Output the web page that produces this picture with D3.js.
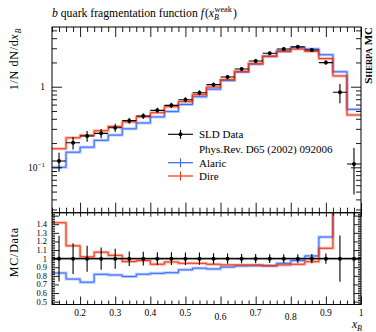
<!DOCTYPE html>
<html><head><meta charset="utf-8">
<script src="https://cdn.jsdelivr.net/npm/d3@7"></script>
<style>
html,body{margin:0;padding:0;background:#fff;}
svg text{font-family:"Liberation Serif","DejaVu Serif",serif;fill:#000;}
</style></head>
<body><svg id="c" width="376" height="332"></svg>
<script>
// ---- data ----
const binCenters = [0.14,0.18,0.22,0.26,0.30,0.34,0.38,0.42,0.46,0.50,0.54,0.58,0.62,0.66,0.70,0.74,0.78,0.82,0.86,0.90,0.94,0.98];
const sldData    = [0.12,0.202,0.245,0.264,0.31,0.379,0.433,0.509,0.587,0.69,0.843,1.06,1.32,1.66,2.08,2.6,2.94,3.13,2.85,1.99,0.852,0.11];
const sldErr     = [0.032,0.036,0.037,0.034,0.036,0.032,0.035,0.038,0.044,0.05,0.06,0.066,0.08,0.09,0.11,0.13,0.15,0.16,0.15,0.12,0.23,0.064];
const alaric     = [0.10,0.154,0.178,0.216,0.251,0.30,0.355,0.422,0.491,0.60,0.75,0.933,1.19,1.52,1.91,2.39,2.78,3.06,2.94,2.49,1.53,0.524];
const dire       = [0.17,0.232,0.25,0.284,0.322,0.366,0.423,0.476,0.564,0.653,0.797,0.991,1.224,1.539,1.928,2.379,2.725,2.927,2.75,2.23,1.36,0.446];
const halfWidth = 0.02;
const xTickLabels = ["0.2","0.3","0.4","0.5","0.6","0.7","0.8","0.9","1"];
const xTickValues = [0.2,0.3,0.4,0.5,0.6,0.7,0.8,0.9,1.0];
const ratioTickValues = [0.5,0.6,0.7,0.8,0.9,1.0,1.1,1.2,1.3,1.4];
const ratioTickLabels = ["0.5","0.6","0.7","0.8","0.9","1","1.1","1.2","1.3","1.4"];
const legendLabels = ["SLD Data","Phys.Rev. D65 (2002) 092006","Alaric","Dire"];
const blue = "#3366ff", red = "#ee3311";

// ---- layout ----
const L = 52, R = 361, T = 27, MB = 212.7, RB = 304.5;
const svg = d3.select("#c");
const x = d3.scaleLinear().domain([0.12, 1.0]).range([L, R]);
const y = d3.scaleLog().domain([0.02735, 5.505]).range([MB, T]);
const yr = d3.scaleLinear().domain([0.467, 1.534]).range([RB, MB]);

svg.append("defs").html(
  `<clipPath id="cm"><rect x="${L}" y="${T}" width="${R-L}" height="${MB-T}"/></clipPath>
   <clipPath id="cr"><rect x="${L}" y="${MB}" width="${R-L}" height="${RB-MB}"/></clipPath>`);

function stepPts(vals, fy){
  const pts=[];
  vals.forEach((v,i)=>{ pts.push([x(binCenters[i]-halfWidth), fy(v)]); pts.push([x(binCenters[i]+halfWidth), fy(v)]); });
  return pts;
}
const line = d3.line();

// ---- main panel ----
const gm = svg.append("g").attr("clip-path","url(#cm)");
[[alaric,blue],[dire,red]].forEach(([vals,col])=>{
  gm.append("path").attr("d",line(stepPts(vals,y))).attr("fill","none").attr("stroke",col).attr("stroke-opacity",0.35).attr("stroke-width",3);
  gm.append("path").attr("d",line(stepPts(vals,y))).attr("fill","none").attr("stroke",col).attr("stroke-width",1);
});
binCenters.forEach((c,i)=>{
  const v=sldData[i], e=sldErr[i];
  gm.append("line").attr("x1",x(c-halfWidth)).attr("x2",x(c+halfWidth)).attr("y1",y(v)).attr("y2",y(v)).attr("stroke","#000").attr("stroke-width",1.1);
  gm.append("line").attr("x1",x(c)).attr("x2",x(c)).attr("y1",y(Math.max(v-e,1e-3))).attr("y2",y(v+e)).attr("stroke","#000").attr("stroke-width",1.1);
  gm.append("circle").attr("cx",x(c)).attr("cy",y(v)).attr("r",2).attr("fill","#000");
});

// ---- ratio panel ----
const gr = svg.append("g").attr("clip-path","url(#cr)");
gr.append("rect").attr("x",L).attr("width",R-L).attr("y",yr(1)-1.5).attr("height",3).attr("fill","#000").attr("fill-opacity",0.25);
[[alaric,blue],[dire,red]].forEach(([vals,col])=>{
  const rv = vals.map((v,i)=>v/sldData[i]);
  gr.append("path").attr("d",line(stepPts(rv,yr))).attr("fill","none").attr("stroke",col).attr("stroke-opacity",0.35).attr("stroke-width",3);
  gr.append("path").attr("d",line(stepPts(rv,yr))).attr("fill","none").attr("stroke",col).attr("stroke-width",1);
});
binCenters.forEach((c,i)=>{
  const re=sldErr[i]/sldData[i];
  gr.append("line").attr("x1",x(c-halfWidth)).attr("x2",x(c+halfWidth)).attr("y1",yr(1)).attr("y2",yr(1)).attr("stroke","#000").attr("stroke-width",1.3);
  gr.append("line").attr("x1",x(c)).attr("x2",x(c)).attr("y1",yr(1-re)).attr("y2",yr(1+re)).attr("stroke","#000").attr("stroke-width",1.1);
  gr.append("circle").attr("cx",x(c)).attr("cy",yr(1)).attr("r",2).attr("fill","#000");
});

// ---- axes / ticks ----
const xMinor = d3.range(0.12, 1.0001, 0.02).filter(v=>!xTickValues.some(t=>Math.abs(t-v)<1e-6));
function styleAxis(g){ g.select(".domain").remove(); g.selectAll("line").attr("stroke","#000").attr("stroke-width",0.9); g.selectAll("text").remove(); }
function xTicks(yPos, dirUp, len, vals){
  const ax = (dirUp? d3.axisBottom(x) : d3.axisTop(x)).tickValues(vals).tickSize(-len).tickFormat("");
  svg.append("g").attr("transform",`translate(0,${yPos})`).call(ax).call(styleAxis);
}
xTicks(T,false,10,xTickValues); xTicks(T,false,5,xMinor);
xTicks(MB,true,10,xTickValues); xTicks(MB,true,5,xMinor);
xTicks(MB,false,4,xTickValues); xTicks(MB,false,3,xMinor);
xTicks(RB,true,8,xTickValues); xTicks(RB,true,4,xMinor);

const yMajor=[0.1,1];
const yMinor=[];
[0.01,0.1,1].forEach(d=>{for(let k=2;k<=9;k++){const v=d*k; if(v>=0.02735&&v<=5.505) yMinor.push(v);}});
function yTicks(scale, xPos, left, len, vals){
  const ax=(left? d3.axisRight(scale): d3.axisLeft(scale)).tickValues(vals).tickSize(len).tickFormat("");
  svg.append("g").attr("transform",`translate(${xPos},0)`).call(ax).call(styleAxis);
}
yTicks(y,L,true,10,yMajor); yTicks(y,L,true,5,yMinor);
yTicks(y,R,false,10,yMajor); yTicks(y,R,false,5,yMinor);
const rMinor = d3.range(0.48,1.53,0.02).filter(v=>!ratioTickValues.some(t=>Math.abs(t-v)<1e-6));
yTicks(yr,L,true,7,ratioTickValues.concat([1.5])); yTicks(yr,L,true,3,rMinor);
yTicks(yr,R,false,7,ratioTickValues.concat([1.5])); yTicks(yr,R,false,3,rMinor);

svg.append("rect").attr("x",L).attr("y",T).attr("width",R-L).attr("height",MB-T).attr("fill","none").attr("stroke","#000").attr("stroke-width",1);
svg.append("rect").attr("x",L).attr("y",MB).attr("width",R-L).attr("height",RB-MB).attr("fill","none").attr("stroke","#000").attr("stroke-width",1);

// tick labels
xTickValues.forEach((v,i)=>{
  const lab=xTickLabels[i];
  const dy = /[68]/.test(lab)?3.5:0;
  svg.append("text").attr("x",x(v)).attr("y",316+dy).attr("text-anchor","middle").attr("font-size",9.5).text(lab);
});
ratioTickValues.forEach((v,i)=>{
  svg.append("text").attr("x",47).attr("y",yr(v)+3).attr("text-anchor","end").attr("font-size",8.5).text(ratioTickLabels[i]);
});
svg.append("text").attr("x",45).attr("y",y(1)+3.5).attr("text-anchor","end").attr("font-size",9.5).text("1");
const t10=svg.append("text").attr("x",45).attr("y",y(0.1)+3.5).attr("text-anchor","end").attr("font-size",9.5);
t10.append("tspan").text("10");
t10.append("tspan").attr("dy",-4).attr("font-size",7).text("−1");

// title
const tt=svg.append("text").attr("x",52).attr("y",17).attr("font-size",11.7);
tt.append("tspan").attr("font-style","italic").text("b");
tt.append("tspan").text(" quark fragmentation function ");
tt.append("tspan").attr("font-style","italic").text("f");
tt.append("tspan").attr("dx",1).text("(");
tt.append("tspan").attr("font-style","italic").text("x");
tt.append("tspan").attr("font-size",8).attr("font-style","italic").attr("dy",2.5).text("B");
tt.append("tspan").attr("font-size",8.3).attr("dx",-4.5).attr("dy",-8).text("weak");
tt.append("tspan").attr("dx",1).attr("dy",5.5).text(")");

// y labels
const yl=svg.append("text").attr("transform","translate(18,28) rotate(-90)").attr("text-anchor","end").attr("font-size",12).attr("letter-spacing",0.7);
yl.append("tspan").text("1/N dN/d");
yl.append("tspan").attr("font-style","italic").text("x");
yl.append("tspan").attr("font-style","italic").attr("font-size",8).attr("dy",2.5).text("B");
svg.append("text").attr("transform","translate(18,227) rotate(-90)").attr("text-anchor","end").attr("font-size",12).attr("letter-spacing",0.8).text("MC/Data");

// x label
const xl=svg.append("text").attr("x",362).attr("y",328).attr("text-anchor","end").attr("font-size",11.5);
xl.append("tspan").attr("font-style","italic").text("x");
xl.append("tspan").attr("font-style","italic").attr("font-size",8).attr("dy",2.5).text("B");

// Sherpa MC
const sm=svg.append("text").attr("transform","translate(372,27) rotate(-90)").attr("text-anchor","end").attr("font-weight","bold").attr("font-size",11);
sm.append("tspan").text("S");
sm.append("tspan").attr("font-size",8.6).text("HERPA");
sm.append("tspan").text(" MC");

// legend
const lg=svg.append("g");
const lx1=168, lx2=193, lxc=180.5, tx=199;
const ly=[134.3,149,162.7,176];
lg.append("line").attr("x1",lx1).attr("x2",lx2).attr("y1",ly[0]).attr("y2",ly[0]).attr("stroke","#000").attr("stroke-width",1.1);
lg.append("line").attr("x1",lxc).attr("x2",lxc).attr("y1",ly[0]-4.5).attr("y2",ly[0]+4.5).attr("stroke","#000").attr("stroke-width",1.1);
lg.append("circle").attr("cx",lxc).attr("cy",ly[0]).attr("r",2).attr("fill","#000");
[[2,blue],[3,red]].forEach(([k,col])=>{
  lg.append("line").attr("x1",lx1).attr("x2",lx2).attr("y1",ly[k]).attr("y2",ly[k]).attr("stroke",col).attr("stroke-width",1.2);
  lg.append("line").attr("x1",lxc).attr("x2",lxc).attr("y1",ly[k]-4.5).attr("y2",ly[k]+4.5).attr("stroke",col).attr("stroke-width",1);
});
legendLabels.forEach((t,i)=>{
  lg.append("text").attr("x",tx).attr("y",ly[i]+3.8).attr("font-size",11).text(t);
});
</script></body></html>
